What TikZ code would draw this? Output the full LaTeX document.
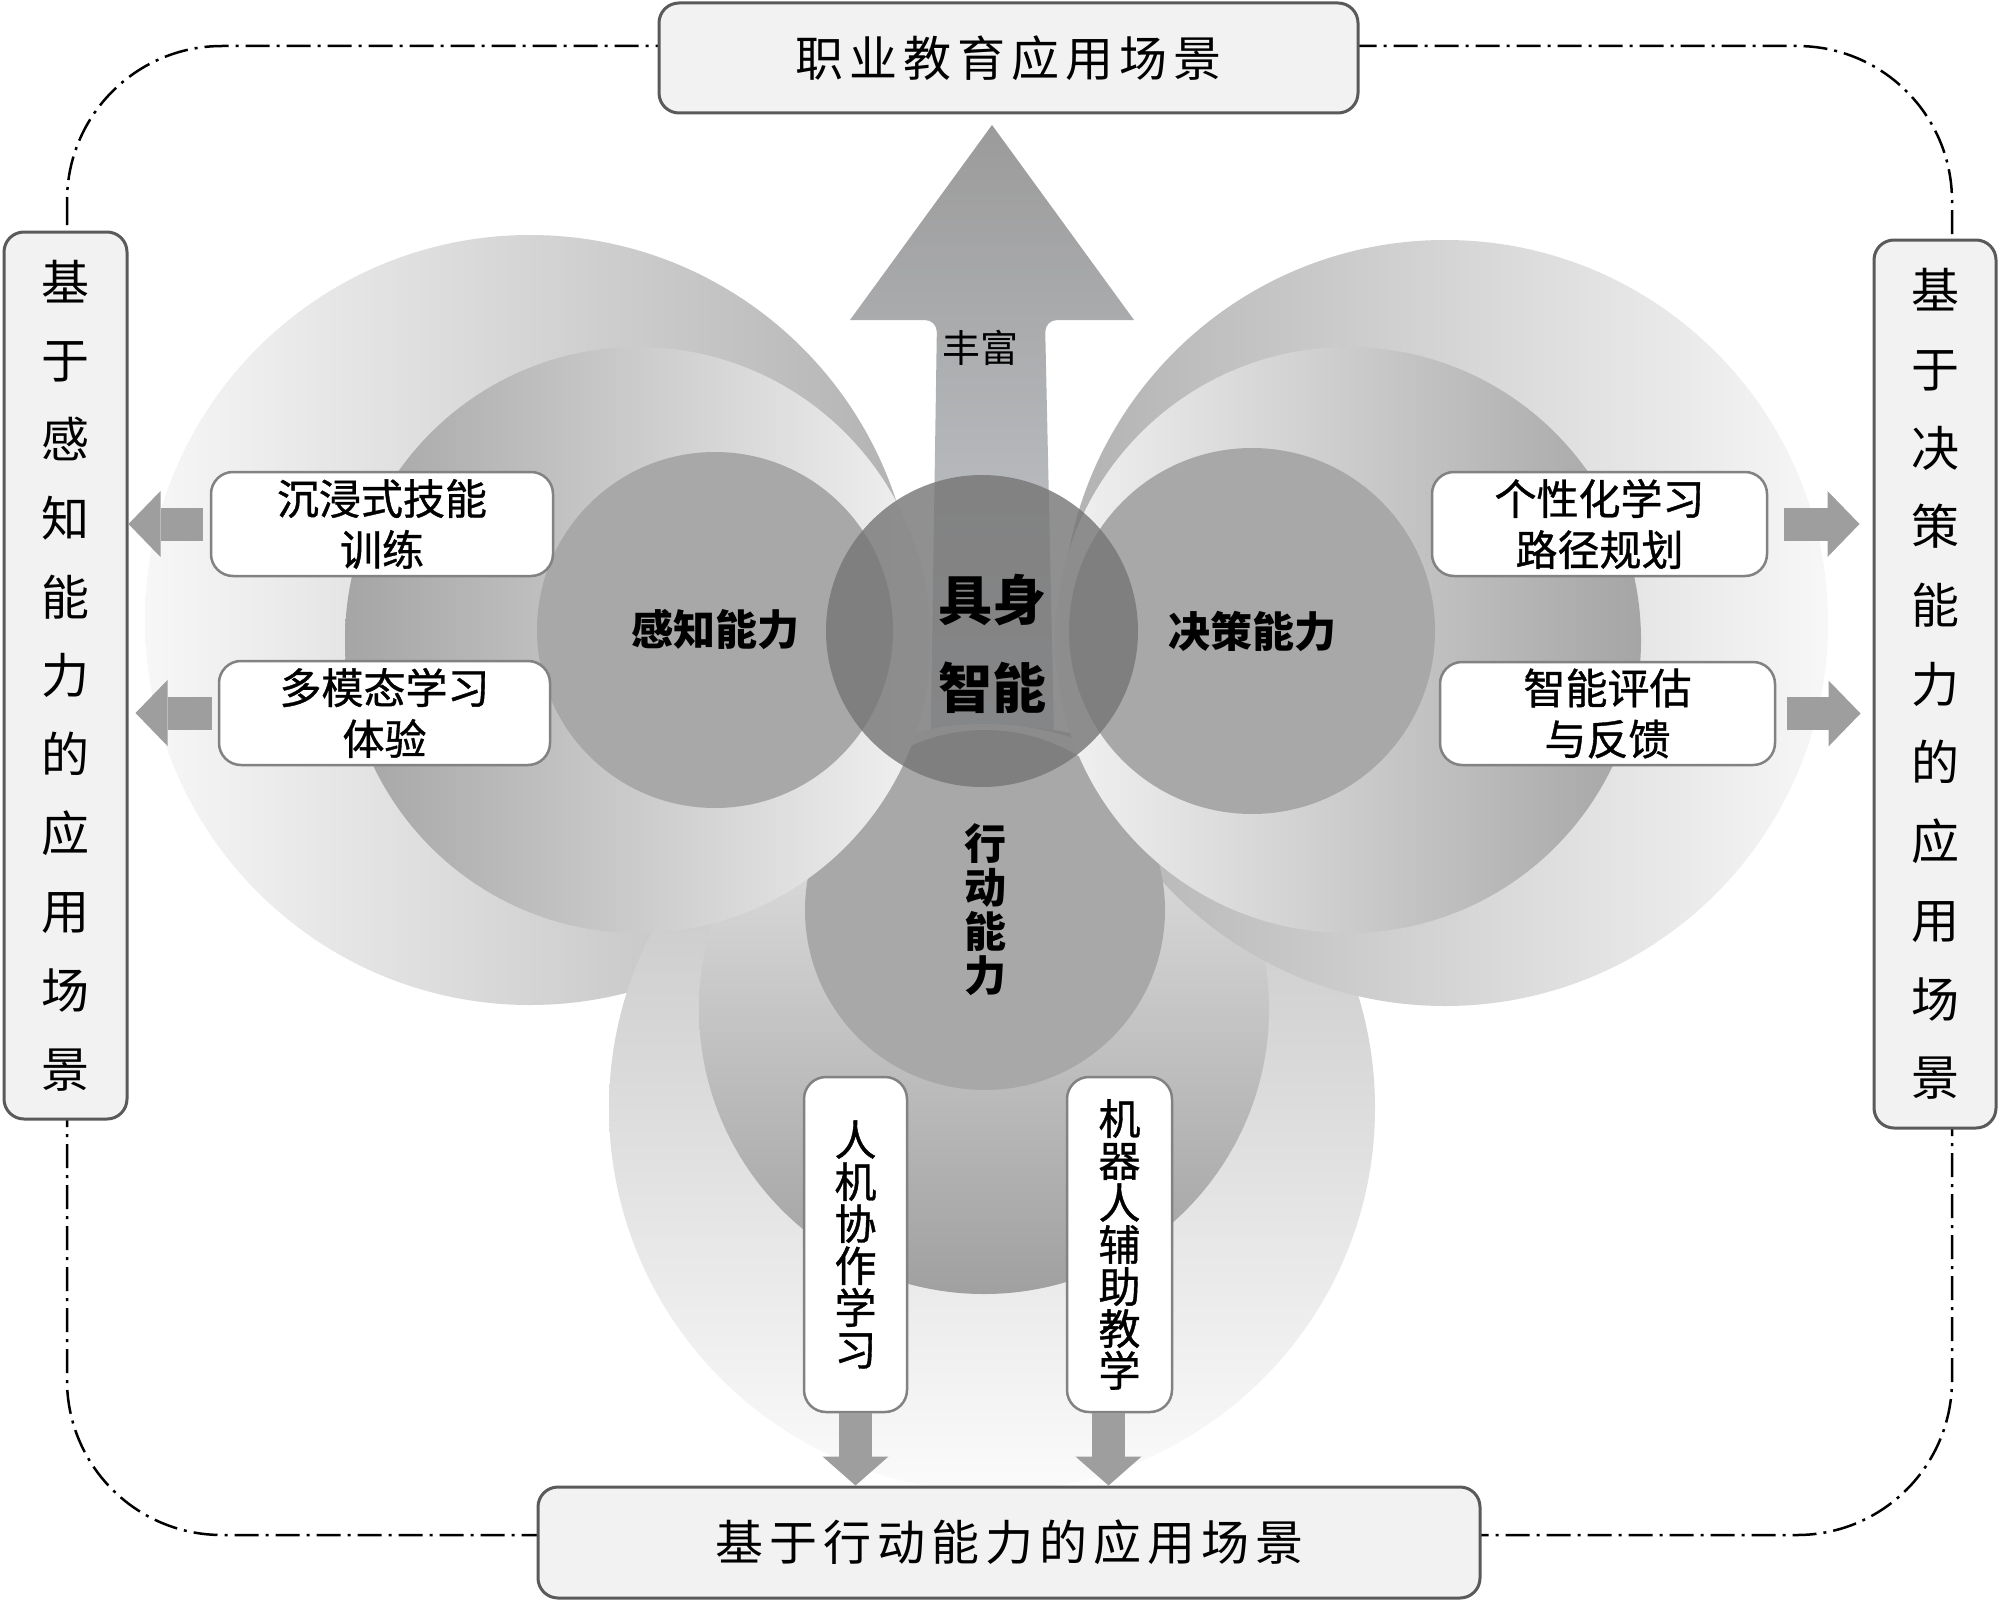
\documentclass[tikz,border=0pt]{standalone}
\usepackage{fontspec}
\setmainfont{Noto Sans CJK SC}
\newfontfamily\cjkmed[FakeBold=0.9]{Noto Sans CJK SC}
\usetikzlibrary{arrows.meta,calc}
\definecolor{outerline}{RGB}{90,90,90}
\definecolor{outerfill}{RGB}{242,242,242}
\definecolor{boxline}{RGB}{130,130,130}
\definecolor{arrowfill}{RGB}{158,158,158}
\definecolor{smallfill}{RGB}{168,168,168}
\definecolor{corefill}{RGB}{117,117,117}
\definecolor{lgA}{RGB}{247,247,247}
\definecolor{lgB}{RGB}{178,178,178}
\definecolor{mdA}{RGB}{165,165,165}
\definecolor{mdB}{RGB}{242,242,242}
\definecolor{bgA}{RGB}{190,190,190}
\definecolor{bgB}{RGB}{251,251,251}
\definecolor{bmA}{RGB}{235,235,235}
\definecolor{bmB}{RGB}{160,160,160}
\definecolor{upA}{RGB}{155,155,155}
\definecolor{upB}{RGB}{205,208,214}
\newcommand\gk{\kern6pt}
\begin{document}
\begin{tikzpicture}[x=1pt,y=-1pt,
  frameline/.style={draw=black,line width=2.5pt,dash pattern=on 24pt off 7pt on 3pt off 7pt},
  outerbox/.style={draw=outerline,line width=3pt,fill=outerfill,rounded corners=20pt,inner sep=0pt,align=center},
  innerbox/.style={draw=boxline,line width=2.5pt,fill=white,rounded corners=22pt,inner sep=0pt,align=center,font=\cjkmed\fontsize{42}{51}\selectfont},
  vbox/.style={innerbox,font=\cjkmed\fontsize{42}{42}\selectfont},
  smallc/.style={circle,fill=smallfill,inner sep=0pt,align=center,font=\bfseries\fontsize{42}{44}\selectfont},
  blockarrow/.style={draw=arrowfill,line width=33pt,-{Triangle[length=32pt,width=66pt,line width=0pt]}},
]
\useasboundingbox (0,0) rectangle (1999,1600);
\fill[white] (0,0) rectangle (1999,1600);

% dash-dot frame
\draw[frameline,rounded corners=155pt] (67,46) rectangle (1952,1535);

% upward arrow (behind everything else)
\shade[top color=upA,bottom color=upB]
  (992,125) -- (1134,320) [rounded corners=12pt] -- (1045,320) -- (1055,780) [sharp corners] -- (930,780) [rounded corners=12pt] -- (937,320) [sharp corners] -- (850,320) -- cycle;

% lobes (back to front)
\shade[left color=lgA,right color=lgB] (530,620) circle[radius=385];
\shade[top color=bgA,bottom color=bgB] (992,1108) circle[radius=383];
\shade[top color=bmA,bottom color=bmB] (984,1009) circle[radius=285];
\shade[left color=lgB,right color=lgA] (1445,623) circle[radius=383];
\node[smallc,minimum size=360] (act) at (985,910) {行\\动\\能\\力};
\shade[left color=mdA,right color=mdB] (638,640) circle[radius=293];
\shade[left color=mdB,right color=mdA] (1348,640) circle[radius=293];
\node[smallc,minimum size=356] (perc) at (715,630) {感知能力};
\node[smallc,minimum size=366] (deci) at (1252,631) {决策能力};

\node[font=\fontsize{38}{40}\selectfont] (rich) at (980,348) {丰富};

% core
\node[circle,minimum size=312,inner sep=0pt,fill=corefill,fill opacity=0.8,text opacity=1,
  label={[font=\bfseries\fontsize{54}{88}\selectfont,align=center,xshift=10pt,yshift=-13pt]center:具身\\智能}] (core) at (982,631) {};

% outer boxes
\node[outerbox,minimum width=699,minimum height=110,font=\fontsize{48}{58}\selectfont] (T) at (1008.5,58)
  {职\gk 业\gk 教\gk 育\gk 应\gk 用\gk 场\gk 景};
\node[outerbox,minimum width=942,minimum height=111,font=\fontsize{48}{58}\selectfont] (B) at (1009,1542.5)
  {基\gk 于\gk 行\gk 动\gk 能\gk 力\gk 的\gk 应\gk 用\gk 场\gk 景};
\node[outerbox,minimum width=123,minimum height=887,font=\fontsize{48}{78.7}\selectfont] (L) at (65.5,675.5)
  {基\\于\\感\\知\\能\\力\\的\\应\\用\\场\\景};
\node[outerbox,minimum width=122,minimum height=888,font=\fontsize{48}{78.7}\selectfont] (R) at (1935,684)
  {基\\于\\决\\策\\能\\力\\的\\应\\用\\场\\景};

% inner boxes
\node[innerbox,minimum width=342,minimum height=104] (b1) at (382,524) {沉浸式技能\\训练};
\node[innerbox,minimum width=331,minimum height=104] (b2) at (384.5,713) {多模态学习\\体验};
\node[innerbox,minimum width=335,minimum height=104] (b3) at (1599.5,524) {个性化学习\\路径规划};
\node[innerbox,minimum width=335,minimum height=103] (b4) at (1607.5,713.5) {智能评估\\与反馈};
\node[vbox,minimum width=103,minimum height=335] (b5) at (855.5,1244.5) {人\\机\\协\\作\\学\\习};
\node[vbox,minimum width=105,minimum height=335] (b6) at (1119.5,1244.5) {机\\器\\人\\辅\\助\\教\\学};

% block arrows
\draw[blockarrow] ($(b1.west)+(-7,0)$) -- (L.east |- b1.west);
\draw[blockarrow] ($(b2.west)+(-6,0)$) -- ($(L.east |- b2.west)+(7,0)$);
\draw[blockarrow] ($(b3.east)+(16,0)$) -- ($(R.west |- b3.east)+(-13,0)$);
\draw[blockarrow] ($(b4.east)+(11,0)$) -- ($(R.west |- b4.east)+(-12,0)$);
\draw[blockarrow,-{Triangle[length=29pt,width=66pt,line width=0pt]}] (b5.south) -- (b5.south |- B.north);
\draw[blockarrow,-{Triangle[length=29pt,width=66pt,line width=0pt]}] ($(b6.south)+(-11,0)$) -- ($(b6.south |- B.north)+(-11,0)$);
\end{tikzpicture}
\end{document}
